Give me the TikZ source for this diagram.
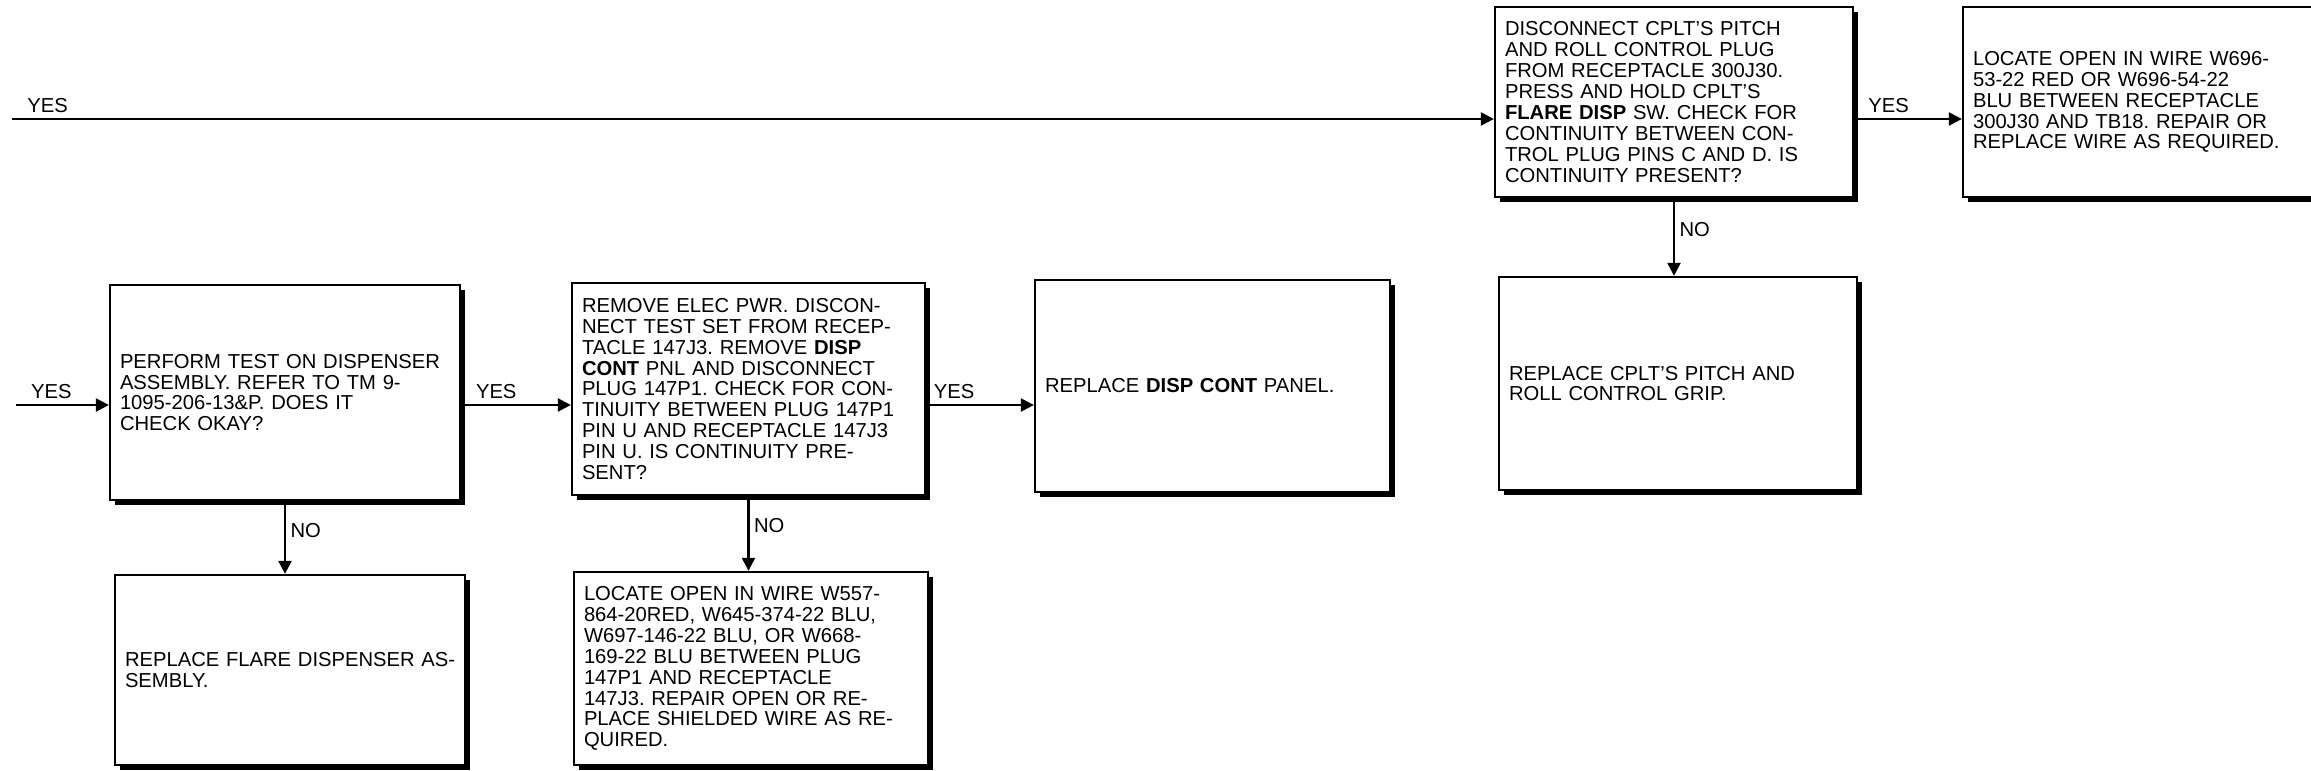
\documentclass[tikz,border=0pt]{standalone}
\usepackage{fontspec}
\setmainfont{Liberation Sans}
\frenchspacing
\usetikzlibrary{positioning, arrows.meta, shadows}
\tikzset{
  box/.style  = {rectangle, draw=black, line width=1.3pt, fill=white,
                 drop shadow={shadow xshift=0.1cm, shadow yshift=-0.1cm,
                              fill=black, opacity=1},
                 align=left, inner xsep=0.2cm,
                 font=\fontsize{11.5}{11.9}\selectfont},
  ar/.style   = {-{Triangle[length=2.6mm,width=2.6mm]}, line width=1.3pt},
  lbl/.style  = {font=\fontsize{11.5}{12}\selectfont, inner sep=3pt},
}

\begin{document}
\begin{tikzpicture}

  \useasboundingbox (0,0) rectangle (46.22,-15.42);

  \node[box, text width=6.6cm, minimum height=4.3cm] (dsptest) at (5.70,-7.85)
       {PERFORM TEST ON DISPENSER\\ASSEMBLY. REFER TO TM 9-\\1095-206-13\&P. DOES IT\\CHECK OKAY?};
  \node[box, text width=6.66cm, minimum height=4.24cm] (pnlcheck) at (14.97,-7.78)
       {REMOVE ELEC PWR. DISCON-\\NECT TEST SET FROM RECEP-\\TACLE 147J3. REMOVE \textbf{DISP}\\\textbf{CONT} PNL AND DISCONNECT\\PLUG 147P1. CHECK FOR CON-\\TINUITY BETWEEN PLUG 147P1\\PIN U AND RECEPTACLE 147J3\\PIN U. IS CONTINUITY PRE-\\SENT?};
  \node[box, text width=6.7cm, minimum height=4.24cm] (pnlrepl) at (24.25,-7.72)
       {REPLACE \textbf{DISP CONT} PANEL.};
  \node[box, text width=6.6cm, minimum height=3.8cm] (dsprepl) at (5.80,-13.40)
       {\mbox{REPLACE FLARE DISPENSER AS-}\\SEMBLY.};
  \node[box, text width=6.68cm, minimum height=3.86cm] (wireopen) at (15.02,-13.37)
       {LOCATE OPEN IN WIRE W557-\\864-20RED, W645-374-22 BLU,\\W697-146-22 BLU, OR W668-\\169-22 BLU BETWEEN PLUG\\147P1 AND RECEPTACLE\\147J3. REPAIR OPEN OR RE-\\PLACE SHIELDED WIRE AS RE-\\QUIRED.};
  \node[box, text width=6.76cm, minimum height=3.8cm] (gripcheck) at (33.48,-2.04)
       {DISCONNECT CPLT'S PITCH\\AND ROLL CONTROL PLUG\\FROM RECEPTACLE 300J30.\\PRESS AND HOLD CPLT'S\\\textbf{FLARE DISP} SW. CHECK FOR\\CONTINUITY BETWEEN CON-\\TROL PLUG PINS C AND D. IS\\CONTINUITY PRESENT?};
  \node[box, text width=6.94cm, minimum height=3.8cm] (wireopen2) at (42.93,-2.04)
       {LOCATE OPEN IN WIRE W696-\\53-22 RED OR W696-54-22\\BLU BETWEEN RECEPTACLE\\300J30 AND TB18. REPAIR OR\\REPLACE WIRE AS REQUIRED.};
  \node[box, text width=6.76cm, minimum height=4.26cm] (griprepl) at (33.56,-7.67)
       {REPLACE CPLT'S PITCH AND\\ROLL CONTROL GRIP.};

  \coordinate (topin) at (0.24,-2.38);
  \coordinate (leftin) at (0.32,-8.10);

  \draw[ar] (topin) -- node[lbl, above, pos=0.024] {YES} (topin -| gripcheck.west);
  \draw[ar] (leftin) -- node[lbl, above, pos=0.38] {YES} (leftin -| dsptest.west);
  \draw[ar] (leftin -| dsptest.east) -- node[lbl, above, pos=0.32] {YES} (leftin -| pnlcheck.west);
  \draw[ar] (leftin -| pnlcheck.east) -- node[lbl, above, pos=0.26] {YES} (leftin -| pnlrepl.west);
  \draw[ar] (topin -| gripcheck.east) -- node[lbl, above, pos=0.32] {YES} (topin -| wireopen2.west);

  \draw[ar] (dsptest.south) -- node[lbl, right, pos=0.4, inner sep=2.5pt] {NO} (dsptest.south |- dsprepl.north);
  \draw[ar] (pnlcheck.south) -- node[lbl, right, pos=0.4, inner sep=2.5pt] {NO} (pnlcheck.south |- wireopen.north);
  \draw[ar] (gripcheck.south) -- node[lbl, right, pos=0.4, inner sep=2.5pt] {NO} (gripcheck.south |- griprepl.north);

\end{tikzpicture}
\end{document}
